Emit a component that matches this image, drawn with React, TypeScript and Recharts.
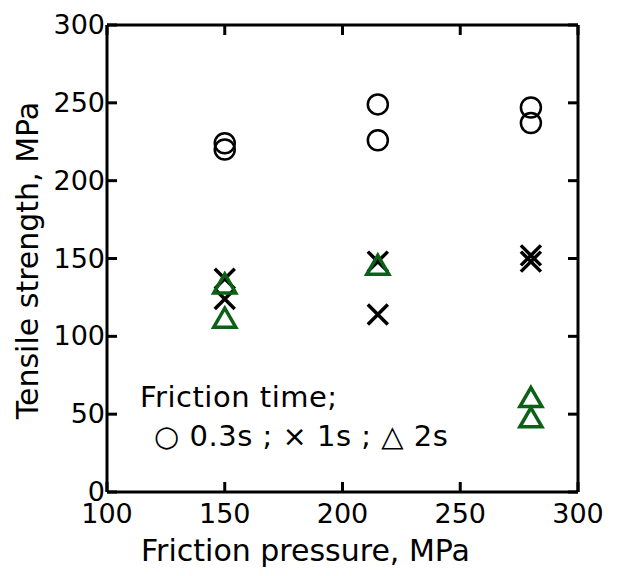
import { ScatterChart, Scatter, XAxis, YAxis, Label } from "recharts";

// friction pressure (MPa) and tensile strength (MPa) per friction time
const pressure03 = [150, 150, 215, 215, 280, 280];
const strength03 = [224, 220, 249, 226, 247, 237];

const pressure1 = [150, 150, 215, 215, 280, 280];
const strength1 = [137, 124, 148, 114, 152, 148];

const pressure2 = [150, 150, 215, 280, 280];
const strength2 = [133, 111, 145, 60, 47];

const ticksX = [100, 150, 200, 250, 300];
const ticksY = [0, 50, 100, 150, 200, 250, 300];

const FONT = "DejaVu Sans";
const GREEN = "#0b6116";

const toPoints = (xs: number[], ys: number[]) => xs.map((p, i) => ({ p, s: ys[i] }));

const Circle = ({ cx, cy }: any) => (
  <circle cx={cx} cy={cy} r={10} fill="none" stroke="#000" strokeWidth={2.5} />
);

const Cross = ({ cx, cy }: any) => (
  <path
    d={`M${cx - 10},${cy - 10}L${cx + 10},${cy + 10}M${cx - 10},${cy + 10}L${cx + 10},${cy - 10}`}
    stroke="#000"
    strokeWidth={3.5}
    fill="none"
  />
);

const Triangle = ({ cx, cy }: any) => (
  <path
    d={`M${cx},${cy - 11}L${cx + 11},${cy + 8}L${cx - 11},${cy + 8}Z`}
    stroke={GREEN}
    strokeWidth={3.5}
    fill="none"
  />
);

const BottomTick = ({ x, y, payload }: any) => (
  <g>
    <line x1={x} x2={x} y1={y} y2={y - 10} stroke="#000" strokeWidth={3} />
    <text x={x} y={y + 31} textAnchor="middle" fontSize={27} fontFamily={FONT} fill="#000">
      {payload.value}
    </text>
  </g>
);

const LeftTick = ({ x, y, payload }: any) => (
  <g>
    <line x1={x} x2={x + 10} y1={y} y2={y} stroke="#000" strokeWidth={3} />
    <text x={x - 2} y={y + 9} textAnchor="end" fontSize={27} fontFamily={FONT} fill="#000">
      {payload.value}
    </text>
  </g>
);

const TopTick = ({ x, y }: any) => (
  <line x1={x} x2={x} y1={y} y2={y + 10} stroke="#000" strokeWidth={3} />
);

const RightTick = ({ x, y }: any) => (
  <line x1={x} x2={x - 10} y1={y} y2={y} stroke="#000" strokeWidth={3} />
);

const axisLine = { stroke: "#000", strokeWidth: 3 };

export default function App() {
  return (
    <div style={{ position: "absolute", left: 0, top: 0, width: 624, height: 576, background: "#fff" }}>
      <ScatterChart width={624} height={576} margin={{ top: 24, right: 45, bottom: 0, left: 0 }}>
        <XAxis
          xAxisId="bottom"
          type="number"
          dataKey="p"
          domain={[100, 300]}
          ticks={ticksX}
          height={84}
          tickSize={0}
          tickMargin={0}
          tickLine={false}
          axisLine={axisLine}
          tick={<BottomTick />}
          interval={0}
        >
          <Label
            content={({ viewBox }: any) => (
              <text
                x={viewBox.x + viewBox.width / 2 - 37}
                y={viewBox.y + 69}
                textAnchor="middle"
                fontSize={30}
                fontFamily={FONT}
                fill="#000"
              >
                Friction pressure, MPa
              </text>
            )}
          />
        </XAxis>
        <XAxis
          xAxisId="top"
          orientation="top"
          type="number"
          dataKey="p"
          domain={[100, 300]}
          ticks={ticksX}
          height={1}
          tickSize={0}
          tickMargin={0}
          tickLine={false}
          axisLine={axisLine}
          tick={<TopTick />}
          interval={0}
        />
        <YAxis
          yAxisId="left"
          type="number"
          dataKey="s"
          domain={[0, 300]}
          ticks={ticksY}
          width={107}
          tickSize={0}
          tickMargin={0}
          tickLine={false}
          axisLine={axisLine}
          tick={<LeftTick />}
          interval={0}
        >
          <Label
            content={({ viewBox }: any) => (
              <text
                transform={`translate(${viewBox.x + 27},${viewBox.y + viewBox.height / 2 + 2}) rotate(-90)`}
                textAnchor="middle"
                dominantBaseline="central"
                fontSize={30}
                fontFamily={FONT}
                fill="#000"
              >
                Tensile strength, MPa
              </text>
            )}
          />
        </YAxis>
        <YAxis
          yAxisId="right"
          orientation="right"
          type="number"
          dataKey="s"
          domain={[0, 300]}
          ticks={ticksY}
          width={1}
          tickSize={0}
          tickMargin={0}
          tickLine={false}
          axisLine={axisLine}
          tick={<RightTick />}
          interval={0}
        />
        <Scatter
          xAxisId="bottom"
          yAxisId="left"
          data={toPoints(pressure03, strength03)}
          shape={<Circle />}
          isAnimationActive={false}
        />
        <Scatter
          xAxisId="bottom"
          yAxisId="left"
          data={toPoints(pressure1, strength1)}
          shape={<Cross />}
          isAnimationActive={false}
        />
        <Scatter
          xAxisId="bottom"
          yAxisId="left"
          data={toPoints(pressure2, strength2)}
          shape={<Triangle />}
          isAnimationActive={false}
        />
        <Scatter
          xAxisId="top"
          yAxisId="right"
          data={toPoints(pressure03, strength03)}
          shape={() => <g />}
          isAnimationActive={false}
        />
      </ScatterChart>
      <div
        style={{
          position: "absolute",
          left: 140,
          top: 378,
          fontFamily: FONT,
          fontSize: 29,
          lineHeight: "39px",
          letterSpacing: 0.5,
          color: "#000",
          whiteSpace: "pre",
        }}
      >
        <div>Friction time;</div>
        <div style={{ paddingLeft: 14 }}>○ 0.3s ; × 1s ; △ 2s</div>
      </div>
    </div>
  );
}
